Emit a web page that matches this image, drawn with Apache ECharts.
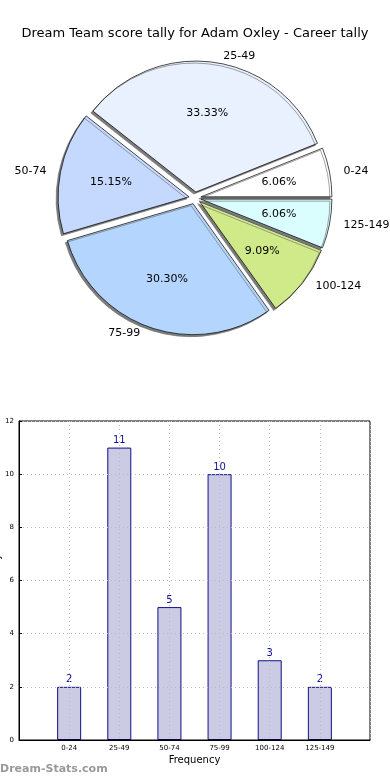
<!DOCTYPE html>
<html>
<head>
<meta charset="utf-8">
<script src="https://cdn.jsdelivr.net/npm/echarts@6/dist/echarts.min.js"></script>
<style>html,body{margin:0;padding:0;background:#fff}#c{width:390px;height:780px}</style>
</head>
<body>
<div id="c"></div>
<script>
var categories = ['0-24', '25-49', '50-74', '75-99', '100-124', '125-149'];
var counts = [2, 11, 5, 10, 3, 2];
var pieColors = ['#ffffff', '#eaf1fe', '#c5d8fe', '#b4d5fe', '#d0ea8a', '#dafefe'];
var yTicks = [0, 2, 4, 6, 8, 10, 12];
var titleText = 'Dream Team score tally for Adam Oxley - Career tally';

var FONT = 'DejaVu Sans';
var total = counts.reduce(function (a, b) { return a + b; }, 0);
var R = 131, CX = 195, CY = 198;

function pieData(withColor) {
  return categories.map(function (c, i) {
    return {
      name: c, value: counts[i], selected: true,
      itemStyle: withColor ? { color: pieColors[i] } : { color: 'rgba(0,0,0,0)', borderWidth: 0, shadowColor: 'rgba(0,0,0,0)' }
    };
  });
}

var xCats = [''].concat(categories).concat(['']);
var barVals = [null].concat(counts).concat([null]);

var chart = echarts.init(document.getElementById('c'), null, { renderer: 'canvas' });
chart.setOption({
  animation: false,
  textStyle: { fontFamily: FONT },
  title: {
    text: titleText, left: 'center', top: 22,
    textStyle: { fontFamily: FONT, fontSize: 13, fontWeight: 'normal', color: '#000' }
  },
  graphic: [{
    type: 'text', left: 0, top: 764,
    style: { text: 'Dream-Stats.com', fill: '#999', font: 'bold 11px "DejaVu Sans"' }
  }],
  grid: {
    left: 19, right: 20, top: 421, bottom: 40, containLabel: false, outerBoundsMode: 'none',
    show: true, borderColor: '#000', borderWidth: 1, backgroundColor: 'rgba(0,0,0,0)'
  },
  xAxis: {
    type: 'category', data: xCats, boundaryGap: false,
    name: 'Frequency', nameLocation: 'middle', nameGap: 15, nameMoveOverlap: false,
    nameTextStyle: { fontFamily: FONT, fontSize: 10, color: '#000' },
    axisLine: { show: true, lineStyle: { color: '#000' } },
    axisTick: { show: false },
    axisLabel: { fontFamily: FONT, fontSize: 7, color: '#000', margin: 5, interval: 0 },
    splitLine: { show: true, lineStyle: { color: '#bbb', type: [1, 3], width: 1 } }
  },
  yAxis: {
    type: 'value', min: yTicks[0], max: yTicks[yTicks.length - 1], interval: 2,
    name: 'Score Tally', nameLocation: 'middle', nameGap: 17, nameRotate: 90, nameMoveOverlap: false,
    nameTextStyle: { fontFamily: FONT, fontSize: 10, color: '#000' },
    axisLine: { show: true, lineStyle: { color: '#000' } },
    axisTick: { show: true, inside: true, length: 3, lineStyle: { color: '#000' } },
    axisLabel: { fontFamily: FONT, fontSize: 7, color: '#000', margin: 5 },
    splitLine: { show: true, lineStyle: { color: '#bbb', type: [1, 3], width: 1 } }
  },
  series: [
    {
      type: 'pie', center: [CX, CY], radius: R, startAngle: 0, clockwise: false,
      selectedMode: 'multiple', selectedOffset: 6, avoidLabelOverlap: false,
      label: { show: false }, labelLine: { show: false },
      itemStyle: { borderColor: '#000', borderWidth: 0.7, shadowColor: 'rgba(110,110,110,0.9)', shadowOffsetX: -2, shadowOffsetY: 2, shadowBlur: 0 },
      emphasis: { disabled: true },
      data: pieData(true)
    },
    {
      type: 'pie', center: [CX, CY], radius: R * 1.17, startAngle: 0, clockwise: false,
      selectedMode: 'multiple', selectedOffset: 6, avoidLabelOverlap: false, silent: true,
      label: {
        show: true, position: 'inner', fontFamily: FONT, fontSize: 11, color: '#000',
        formatter: function (p) { return (p.value / total * 100).toFixed(2) + '%'; }
      },
      labelLine: { show: false },
      emphasis: { disabled: true },
      data: pieData(false)
    },
    {
      type: 'pie', center: [CX, CY], radius: R, startAngle: 0, clockwise: false,
      selectedMode: 'multiple', selectedOffset: 6, avoidLabelOverlap: false, silent: true,
      label: { show: true, position: 'outside', fontFamily: FONT, fontSize: 11, color: '#000', distanceToLabelLine: 8, formatter: '{b}' },
      labelLine: { show: false, length: 6, length2: 0 },
      emphasis: { disabled: true },
      data: pieData(false)
    },
    {
      type: 'bar', data: barVals, barWidth: 24, z: -1,
      itemStyle: { color: '#cbcbe3', borderColor: '#10108a', borderWidth: 1 },
      label: { show: true, position: 'top', distance: 2, fontFamily: FONT, fontSize: 10, color: '#10109a' },
      emphasis: { disabled: true }
    }
  ]
});
</script>
</body>
</html>
